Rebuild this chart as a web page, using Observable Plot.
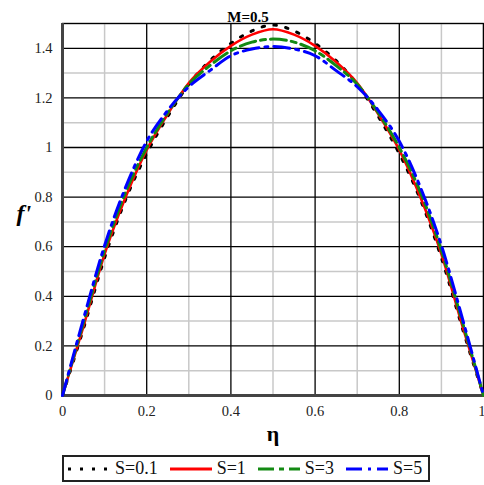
<!DOCTYPE html>
<html>
<head>
<meta charset="utf-8">
<script src="https://cdn.jsdelivr.net/npm/d3@7"></script>
<script src="https://cdn.jsdelivr.net/npm/@observablehq/plot@0.6"></script>
<style>
  html, body { margin: 0; padding: 0; background: #fff; }
  #wrap { width: 484px; font-family: "Liberation Serif", "Times New Roman", serif; }
  #legend {
    margin-left: 62px; margin-top: 5px; width: 364px; height: 23px;
    border: 2px solid #222; display: flex; align-items: center;
    font-family: "Liberation Serif", "Times New Roman", serif;
    font-size: 18px; color: #111; box-sizing: content-box;
  }
  #legend .item { display: flex; align-items: center; }
  #legend svg { display: block; }
</style>
</head>
<body>
<div id="wrap"><div id="chart"></div><div id="legend"></div></div>
<script>
// ---- data ----
const eta = [0, 0.05, 0.1, 0.15, 0.2, 0.25, 0.3, 0.35, 0.4, 0.45, 0.5,
             0.55, 0.6, 0.65, 0.7, 0.75, 0.8, 0.85, 0.9, 0.95, 1];
const fS01 = [0, 0.27, 0.555, 0.79, 0.975, 1.125, 1.255, 1.35, 1.42, 1.47, 1.494,
              1.47, 1.42, 1.35, 1.255, 1.125, 0.975, 0.79, 0.555, 0.27, 0];
const fS1  = [0, 0.28, 0.57, 0.80, 0.99, 1.135, 1.26, 1.345, 1.41, 1.455, 1.477,
              1.455, 1.41, 1.345, 1.26, 1.135, 0.99, 0.80, 0.57, 0.28, 0];
const fS3  = [0, 0.295, 0.585, 0.82, 1.0, 1.14, 1.255, 1.33, 1.39, 1.425, 1.437,
              1.425, 1.39, 1.33, 1.255, 1.14, 1.0, 0.82, 0.585, 0.295, 0];
const fS5  = [0, 0.31, 0.605, 0.84, 1.025, 1.15, 1.245, 1.31, 1.37, 1.397, 1.407,
              1.397, 1.37, 1.31, 1.245, 1.15, 1.025, 0.84, 0.605, 0.31, 0];
const seriesNames = ["S=0.1", "S=1", "S=3", "S=5"];
const xMajor = [0, 0.2, 0.4, 0.6, 0.8, 1];
const xMinor = [0.1, 0.3, 0.5, 0.7, 0.9];
const yMajor = [0, 0.2, 0.4, 0.6, 0.8, 1, 1.2, 1.4];
const yMinor = [0.1, 0.3, 0.5, 0.7, 0.9, 1.1, 1.3, 1.5];
const title = "M=0.5";

// ---- styles ----
const styles = {
  "S=0.1": {stroke: "#000000", dash: "2.5,9.5", width: 3},
  "S=1":   {stroke: "#ff0000", dash: null, width: 2.6},
  "S=3":   {stroke: "#138a13", dash: "16,5,5,5", width: 3},
  "S=5":   {stroke: "#0000ff", dash: "16,6,3,6", width: 3}
};
const allSeries = [fS01, fS1, fS3, fS5];
const rows = [];
seriesNames.forEach((s, i) => eta.forEach((e, j) => rows.push({s, eta: e, f: allSeries[i][j]})));

const serif = "'Liberation Serif', 'Times New Roman', serif";

const lineMarks = seriesNames.map(s => Plot.line(rows.filter(r => r.s === s), {
  x: "eta", y: "f", stroke: styles[s].stroke, strokeWidth: styles[s].width,
  strokeDasharray: styles[s].dash || undefined, curve: "monotone-x"
}));

const chart = Plot.plot({
  width: 484, height: 450,
  marginLeft: 62, marginRight: 1, marginTop: 23, marginBottom: 55,
  style: {fontFamily: serif, fontSize: "14.5px", color: "#222", background: "#fff"},
  x: {domain: [0, 1], label: null},
  y: {domain: [0, 1.5], label: null},
  marks: [
    Plot.ruleX(xMinor, {stroke: "#c8c8c8", strokeWidth: 1.5}),
    Plot.ruleY(yMinor, {stroke: "#c8c8c8", strokeWidth: 1.5}),
    Plot.ruleX(xMajor, {stroke: "#000", strokeWidth: 1.3}),
    Plot.ruleY(yMajor, {stroke: "#000", strokeWidth: 1.3}),
    Plot.frame({stroke: "#000", strokeWidth: 1.3}),
    Plot.ruleX([0], {stroke: "#444", strokeWidth: 3}),
    Plot.ruleY([0], {stroke: "#444", strokeWidth: 3}),
    Plot.axisY(yMajor, {tickSize: 0, tickPadding: 10, tickFormat: d => String(d), label: null, fontFamily: serif}),
    Plot.axisX(xMajor.slice(0, -1), {tickSize: 0, tickPadding: 10, tickFormat: d => String(d), label: null, fontFamily: serif}),
    Plot.axisX(xMajor.slice(-1), {tickSize: 0, tickPadding: 10, tickFormat: d => String(d), label: null, textAnchor: "end", dx: 2, fontFamily: serif}),
    ...lineMarks,
    Plot.text([title], {frameAnchor: "top", dx: -25, dy: -12, fontWeight: "bold", fontSize: 15, fill: "#000", fontFamily: serif}),
    Plot.text(["f'"], {frameAnchor: "left", dx: -46, dy: 4, fontWeight: "bold", fontStyle: "italic", fontSize: 24, fill: "#000", fontFamily: serif}),
    Plot.text(["η"], {frameAnchor: "bottom", dy: 45, fontWeight: "bold", fontSize: 22, fill: "#000", fontFamily: serif})
  ]
});
document.getElementById("chart").appendChild(chart);

// ---- legend ----
const legend = document.getElementById("legend");
const gaps = [4, 12, 12, 12];
seriesNames.forEach((s, i) => {
  const st = styles[s];
  const item = document.createElement("div");
  item.className = "item";
  item.style.marginLeft = gaps[i] + "px";
  item.innerHTML =
    `<svg width="42" height="10"><line x1="0" y1="5" x2="42" y2="5" stroke="${st.stroke}" stroke-width="3" ${st.dash ? `stroke-dasharray="${st.dash === "2.5,9.5" ? "3,9" : st.dash}"` : ""}/></svg>` +
    `<span style="margin-left:5px">${s}</span>`;
  legend.appendChild(item);
});
</script>
</body>
</html>
